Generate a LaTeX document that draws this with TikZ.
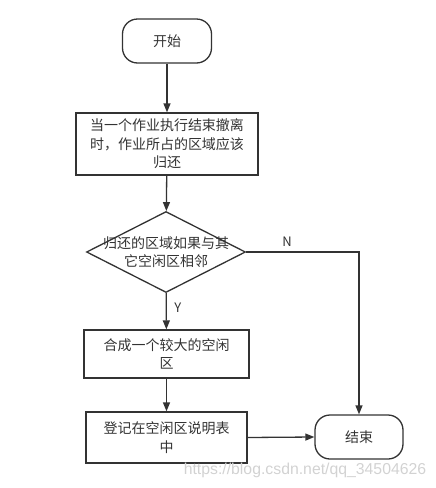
\documentclass[tikz,border=0pt]{standalone}
\usepackage{fontspec}
\setmainfont{Noto Sans CJK SC}
\newfontfamily\wmfont{Liberation Sans}
\usetikzlibrary{shapes.geometric,arrows.meta,positioning}
\definecolor{linegray}{HTML}{333333}
\tikzset{
  base/.style={draw=linegray, line width=1.3pt, text=linegray, align=center,
               font=\fontsize{14}{18.5}\selectfont, inner sep=0pt},
  terminal/.style={base, rectangle, rounded corners=15pt},
  process/.style={base, rectangle},
  decision/.style={base, diamond},
  flow/.style={draw=linegray, line width=1.3pt, -{Triangle[length=9pt,width=7pt]}},
  tag/.style={text=linegray, font=\fontsize{13}{13}\selectfont}
}
\begin{document}
\begin{tikzpicture}[x=1pt,y=-1pt]
\useasboundingbox (0,0) rectangle (436,488);

\node[terminal, minimum width=89pt, minimum height=44pt] (start) at (167,41) {开始};
\node[process, minimum width=182pt, minimum height=62pt] (release) at (167,144)
  {当一个作业执行结束撤离\\时，作业所占的区域应该\\归还};
\node[decision, minimum width=159pt, minimum height=81pt] (adj) at (166,252) {};
\node[text=linegray, align=center, font=\fontsize{14}{18.5}\selectfont] (adjtext) at (adj)
  {归还的区域如果与其\\它空闲区相邻};
\node[process, minimum width=165pt, minimum height=48pt] (merge) at (166.5,354)
  {合成一个较大的空闲\\区};
\node[process, minimum width=161pt, minimum height=51pt] (record) at (166.5,437.5)
  {登记在空闲区说明表\\中};
\node[terminal, minimum width=88pt, minimum height=44pt] (finish) at (359,437) {结束};

\draw[flow] (start) -- (release);
\draw[flow] (release) -- (adj);
\draw[flow] (adj) -- node[tag, right=4pt, pos=0.4] (yes) {Y} (merge);
\draw[flow] (merge) -- (record);
\draw[flow] (record.east) -- (finish.west);
\draw[flow] (adj.east) -| (finish.north);
\node[tag] (no) at (287,242) {N};

\node[text=gray!35, font=\wmfont\fontsize{15.8}{15.8}\selectfont] (mark) at (305,470)
  {https://blog.csdn.net/qq\_34504626};
\end{tikzpicture}
\end{document}
